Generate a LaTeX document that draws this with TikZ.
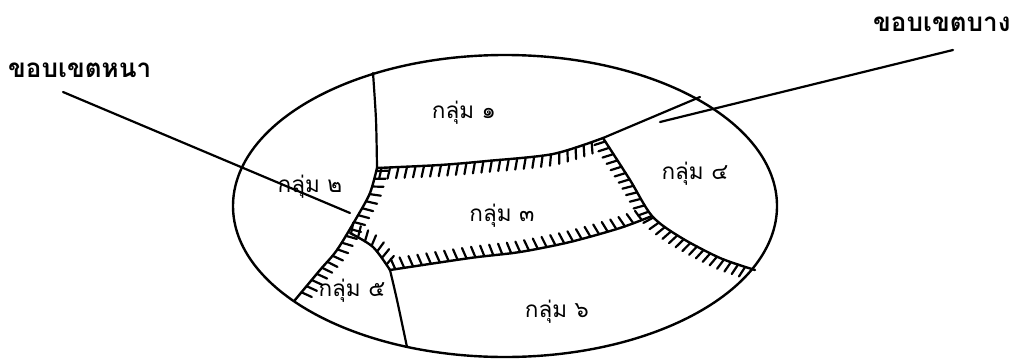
\documentclass[tikz,border=0pt]{standalone}
\usepackage{fontspec}
\newfontfamily\thaifont[Script=Thai]{Loma}
\usetikzlibrary{decorations.markings}
\tikzset{
  outline/.style={line width=2.4pt, line join=round, line cap=round},
  thin line/.style={line width=2.2pt, line cap=round},
  hatchR/.style={outline, postaction={decorate, decoration={markings,
      mark=between positions 0.02 and 0.98 step #1 with {\draw[line width=2.2pt, line cap=round] (0pt,0pt) -- (-3pt,-11pt);}}}},
  hatchL/.style={outline, postaction={decorate, decoration={markings,
      mark=between positions 0.02 and 0.98 step #1 with {\draw[line width=2.2pt, line cap=round] (0pt,0pt) -- (-3pt,11pt);}}}},
  grouplabel/.style={font=\thaifont\fontsize{22.5}{24}\selectfont, anchor=base, inner sep=0pt},
  boldlabel/.style={font=\thaifont\bfseries\fontsize{26}{28}\selectfont, inner sep=0pt, anchor=base west}
}
\begin{document}
\begin{tikzpicture}[x=1pt, y=-1pt]
\useasboundingbox (0,0) rectangle (1016,359);
% outer ellipse
\draw[outline] (505,206) ellipse [x radius=272pt, y radius=151pt];
% named points
\coordinate (ltop) at (373,73);
\coordinate (jA) at (377,168);
\coordinate (jB) at (603,138);
\coordinate (jC) at (652,216);
\coordinate (jD) at (390,270);
\coordinate (jE) at (350,233);
\coordinate (lbot) at (295,300);
\coordinate (rbot) at (755,270);
\coordinate (r14) at (700,97);
\coordinate (b56) at (407,347);
% thin boundaries
\draw[thin line] plot[smooth] coordinates {(ltop) (376,120) (jA)};
\draw[thin line] (jB) -- (r14);
\draw[thin line] plot[smooth] coordinates {(jD) (397,300) (b56)};
% thick (hatched) boundaries
\draw[hatchR=8.5pt] plot[smooth] coordinates {(jA) (440,165) (487,161) (553,154) (jB)};
\draw[hatchR=7.5pt] plot[smooth] coordinates {(jB) (630,180) (jC) (680,237) (720,258) (rbot)};
\draw[hatchL=9pt] plot[smooth] coordinates {(jD) (470,258) (520,252) (570,242) (620,228) (jC)};
\draw[hatchL=8pt] plot[smooth] coordinates {(jA) (370,193) (357,217) (337,250) (320,270) (lbot)};
\draw[hatchL=8pt] plot[smooth] coordinates {(jE) (373,247) (jD)};
% labels
\node[grouplabel] (g1) at (464,118) {กลุ่ม ๑};
\node[grouplabel] (g2) at (310,192) {กลุ่ม ๒};
\node[grouplabel] (g3) at (502,221) {กลุ่ม ๓};
\node[grouplabel] (g4) at (695,179) {กลุ่ม ๔};
\node[grouplabel] (g5) at (352,296) {กลุ่ม ๕};
\node[grouplabel] (g6) at (557,317) {กลุ่ม ๖};
\node[boldlabel] (thick) at (8,77) {ขอบเขตหนา};
\node[boldlabel] (thin) at (873,31) {ขอบเขตบาง};
% pointers
\coordinate (pthick) at (350,213);
\coordinate (pthin) at (660,122);
\draw[thin line] (63,92) -- (pthick);
\draw[thin line] (953,50) -- (pthin);
\end{tikzpicture}
\end{document}
